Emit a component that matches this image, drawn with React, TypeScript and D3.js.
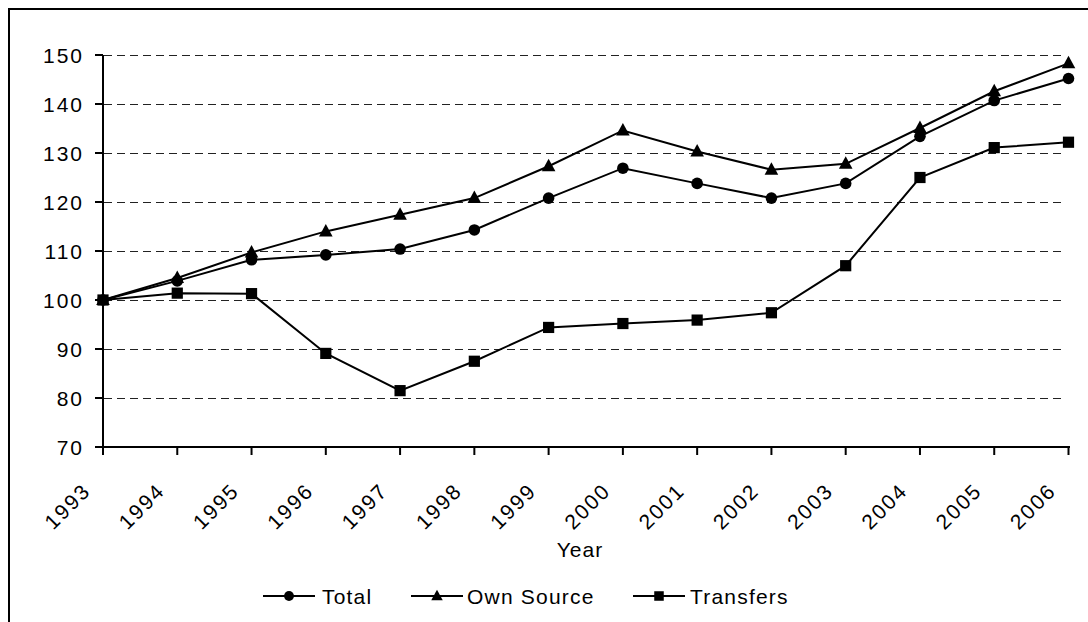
import React from "react";
import * as d3 from "d3";

const years = ["1993","1994","1995","1996","1997","1998","1999","2000","2001","2002","2003","2004","2005","2006"];
const totalValues = [100, 103.9, 108.2, 109.2, 110.4, 114.3, 120.8, 126.9, 123.8, 120.8, 123.8, 133.4, 140.7, 145.2];
const ownSourceValues = [100, 104.5, 109.7, 114.0, 117.4, 120.8, 127.3, 134.6, 130.3, 126.6, 127.8, 135.1, 142.6, 148.3];
const transfersValues = [100, 101.4, 101.3, 89.1, 81.5, 87.5, 94.4, 95.2, 95.9, 97.4, 107.0, 125.0, 131.1, 132.2];
const yTicks = [70, 80, 90, 100, 110, 120, 130, 140, 150];
const seriesNames = ["Total", "Own Source", "Transfers"];
const seriesMarkers = ["circle", "triangle", "square"];

const W = 1088;
const H = 622;
const FONT = "'Liberation Sans', Arial, Helvetica, sans-serif";

function Marker({ kind, x, y, s = 1 }: { kind: string; x: number; y: number; s?: number }) {
  if (kind === "circle") return <circle cx={x} cy={y} r={5.8 * s} fill="#000" />;
  if (kind === "square")
    return <rect x={x - 5.6 * s} y={y - 5.6 * s} width={11.2 * s} height={11.2 * s} fill="#000" />;
  const p = d3.path();
  p.moveTo(x, y - 7.5 * s);
  p.lineTo(x + 6.8 * s, y + 5 * s);
  p.lineTo(x - 6.8 * s, y + 5 * s);
  p.closePath();
  return <path d={p.toString()} fill="#000" />;
}

export default function App() {
  const x = d3.scalePoint<string>().domain(years).range([103, 1068.5]);
  const y = d3.scaleLinear().domain([70, 150]).range([447, 55]);
  const line = d3
    .line<number>()
    .x((_, i) => x(years[i]) as number)
    .y((d) => y(d));
  const series = [totalValues, ownSourceValues, transfersValues];

  const legendItems = [
    { lx: 263, tx: 322 },
    { lx: 411, tx: 467 },
    { lx: 633, tx: 690 },
  ];
  const legendY = 596;

  return (
    <svg
      width={W}
      height={H}
      style={{ position: "absolute", left: 0, top: 0, display: "block", background: "#fff" }}
      fontFamily={FONT}
    >
      <rect x={0} y={0} width={W} height={H} fill="#fff" />
      {/* outer border (top & left visible) */}
      <rect x={9} y={9} width={W + 100} height={H + 100} fill="none" stroke="#000" strokeWidth={2} />

      {/* gridlines */}
      {yTicks
        .filter((t) => t !== 70)
        .map((t) => (
          <line
            key={"g" + t}
            x1={104}
            x2={1066}
            y1={Math.round(y(t)) + 0.5}
            y2={Math.round(y(t)) + 0.5}
            stroke="#222"
            strokeWidth={1}
            strokeDasharray="8 5"
          />
        ))}

      {/* y axis */}
      <line x1={103} x2={103} y1={y(150)} y2={y(70) + 8} stroke="#000" strokeWidth={2} />
      {yTicks.map((t) => (
        <g key={"yt" + t}>
          <line x1={95} x2={103} y1={y(t)} y2={y(t)} stroke="#000" strokeWidth={2} />
          <text
            x={84}
            y={y(t)}
            dy="0.36em"
            textAnchor="end"
            fontSize={21}
            letterSpacing={2}
            fill="#000"
          >
            {t}
          </text>
        </g>
      ))}

      {/* x axis */}
      <line x1={102} x2={1070} y1={y(70)} y2={y(70)} stroke="#000" strokeWidth={2} />
      {years.map((yr) => {
        const px = x(yr) as number;
        return (
          <g key={"xt" + yr}>
            <line x1={px} x2={px} y1={y(70)} y2={y(70) + 8} stroke="#000" strokeWidth={2} />
            <text
              transform={`translate(${px - 11},${492}) rotate(-45)`}
              textAnchor="end"
              fontSize={21}
              letterSpacing={2}
              fill="#000"
            >
              {yr}
            </text>
          </g>
        );
      })}
      <text x={580} y={557} textAnchor="middle" fontSize={21} letterSpacing={1} fill="#000">
        Year
      </text>

      {/* series */}
      {series.map((vals, si) => (
        <g key={"s" + si}>
          <path d={line(vals) || ""} fill="none" stroke="#000" strokeWidth={2} />
          {vals.map((v, i) => (
            <Marker key={i} kind={seriesMarkers[si]} x={x(years[i]) as number} y={y(v)} />
          ))}
        </g>
      ))}

      {/* legend */}
      {seriesNames.map((name, i) => {
        const it = legendItems[i];
        return (
          <g key={"l" + name}>
            <line x1={it.lx} x2={it.lx + 52} y1={legendY} y2={legendY} stroke="#000" strokeWidth={2} />
            <Marker kind={seriesMarkers[i]} x={it.lx + 26} y={legendY} s={0.85} />
            <text x={it.tx} y={legendY} dy="0.36em" fontSize={21} letterSpacing={1.2} fill="#000">
              {name}
            </text>
          </g>
        );
      })}
    </svg>
  );
}
